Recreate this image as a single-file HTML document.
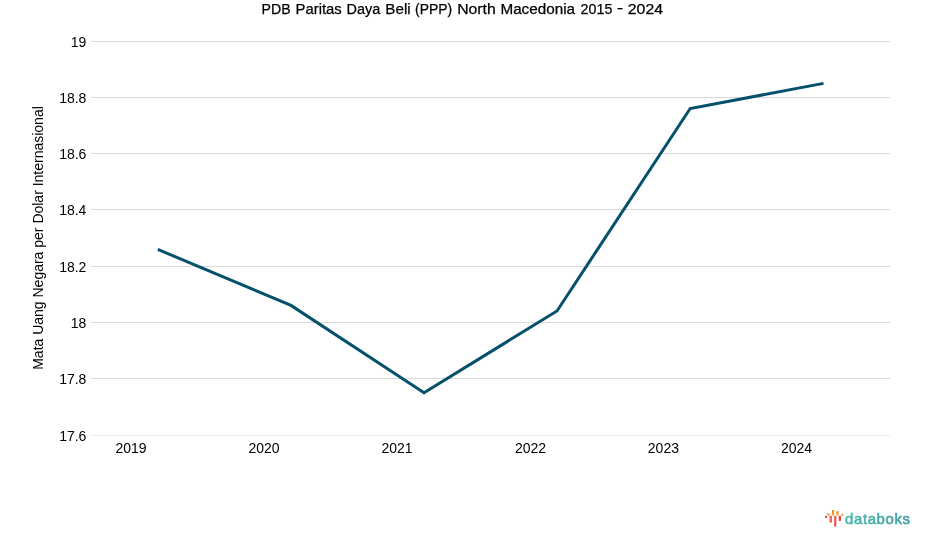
<!DOCTYPE html>
<html><head><meta charset="utf-8"><title>PDB Paritas Daya Beli (PPP) North Macedonia 2015 - 2024</title>
<style>
html,body{margin:0;padding:0;background:#fff;}
body{width:925px;height:547px;overflow:hidden;font-family:"Liberation Sans",sans-serif;}
svg{display:block}
text{font-family:"Liberation Sans",sans-serif;fill:#000}
</style></head><body>
<svg width="925" height="547" viewBox="0 0 925 547">
<rect width="925" height="547" fill="#fff"/>
<text id="title" transform="translate(0,13.8)" font-size="15.4" style="stroke:#000;stroke-width:0.25"><tspan x="261.62" textLength="29.07" lengthAdjust="spacingAndGlyphs">PDB</tspan> <tspan x="295.57" textLength="46.23" lengthAdjust="spacingAndGlyphs">Paritas</tspan> <tspan x="346.60" textLength="33.71" lengthAdjust="spacingAndGlyphs">Daya</tspan> <tspan x="385.35" textLength="25.3" lengthAdjust="spacingAndGlyphs">Beli</tspan> <tspan x="415.0" textLength="37.2" lengthAdjust="spacingAndGlyphs">(PPP)</tspan> <tspan x="457.20" textLength="38.60" lengthAdjust="spacingAndGlyphs">North</tspan> <tspan x="500.44" textLength="74.6" lengthAdjust="spacingAndGlyphs">Macedonia</tspan> <tspan x="580.6" textLength="31.75" lengthAdjust="spacingAndGlyphs">2015</tspan> <tspan x="616.9" dy="-0.7" textLength="6.2" lengthAdjust="spacingAndGlyphs">-</tspan> <tspan x="627.8" dy="0.7" textLength="35.3" lengthAdjust="spacingAndGlyphs">2024</tspan></text>
<g stroke="#d9d9d9" stroke-width="1" shape-rendering="crispEdges">
<line x1="91" x2="890" y1="41.5" y2="41.5"/>
<line x1="91" x2="890" y1="97.5" y2="97.5"/>
<line x1="91" x2="890" y1="153.5" y2="153.5"/>
<line x1="91" x2="890" y1="209.5" y2="209.5"/>
<line x1="91" x2="890" y1="266.5" y2="266.5"/>
<line x1="91" x2="890" y1="322.5" y2="322.5"/>
<line x1="91" x2="890" y1="378.5" y2="378.5"/>
<line x1="91" x2="890" y1="435.5" y2="435.5" stroke="#ebebeb"/>
</g>
<g font-size="14" text-anchor="end">
<text x="86.4" y="46.5">19</text>
<text x="86.4" y="102.5">18.8</text>
<text x="86.4" y="158.5">18.6</text>
<text x="86.4" y="214.5">18.4</text>
<text x="86.4" y="271.5">18.2</text>
<text x="86.4" y="327.5">18</text>
<text x="86.4" y="383.5">17.8</text>
<text x="86.4" y="440.5">17.6</text>
</g>
<g font-size="14" text-anchor="middle">
<text x="131" y="452.7">2019</text>
<text x="264" y="452.7">2020</text>
<text x="397" y="452.7">2021</text>
<text x="530.5" y="452.7">2022</text>
<text x="663.4" y="452.7">2023</text>
<text x="796.5" y="452.7">2024</text>
</g>
<text id="ytitle" font-size="14" text-anchor="middle" transform="translate(43.1,238) rotate(-90) scale(1,1.07)">Mata Uang Negara per Dolar Internasional</text>
<polyline fill="none" stroke="#05506b" stroke-width="3" stroke-linejoin="miter" points="157.8,249.4 291,305.4 424,392.7 557,311 690.2,108.5 823.5,83.4"/>
<g id="logo">
<defs>
<linearGradient id="og" x1="0" y1="510" x2="0" y2="515.6" gradientUnits="userSpaceOnUse"><stop offset="0" stop-color="#dc8526"/><stop offset="1" stop-color="#f5a846"/></linearGradient>
<linearGradient id="tg" x1="0" y1="0" x2="65" y2="0" gradientUnits="userSpaceOnUse"><stop offset="0" stop-color="#4cbab3"/><stop offset="1" stop-color="#3b9ea0"/></linearGradient>
</defs>
<rect x="827.0" y="513.2" width="2.6" height="2.3" fill="#f3a645"/>
<rect x="831.9" y="510.1" width="2.3" height="5.4" fill="url(#og)"/>
<rect x="836.3" y="511.2" width="2.3" height="4.3" fill="url(#og)"/>
<rect x="841.1" y="513.9" width="2.1" height="1.7" fill="#e6912f"/>
<rect x="825.0" y="515.8" width="2.0" height="2.2" fill="#ec4f48"/>
<rect x="829.6" y="515.8" width="2.3" height="6.8" fill="#ef5d52"/>
<rect x="834.1" y="515.8" width="2.3" height="10.8" fill="#ee5a50"/>
<rect x="838.7" y="515.8" width="2.3" height="5.1" fill="#e2483f"/>
<text transform="translate(845.1,523.6)" font-size="14.9" textLength="64.8" lengthAdjust="spacing" style="fill:url(#tg);stroke:url(#tg);stroke-width:0.6">databoks</text>
</g>
</svg>
</body></html>
